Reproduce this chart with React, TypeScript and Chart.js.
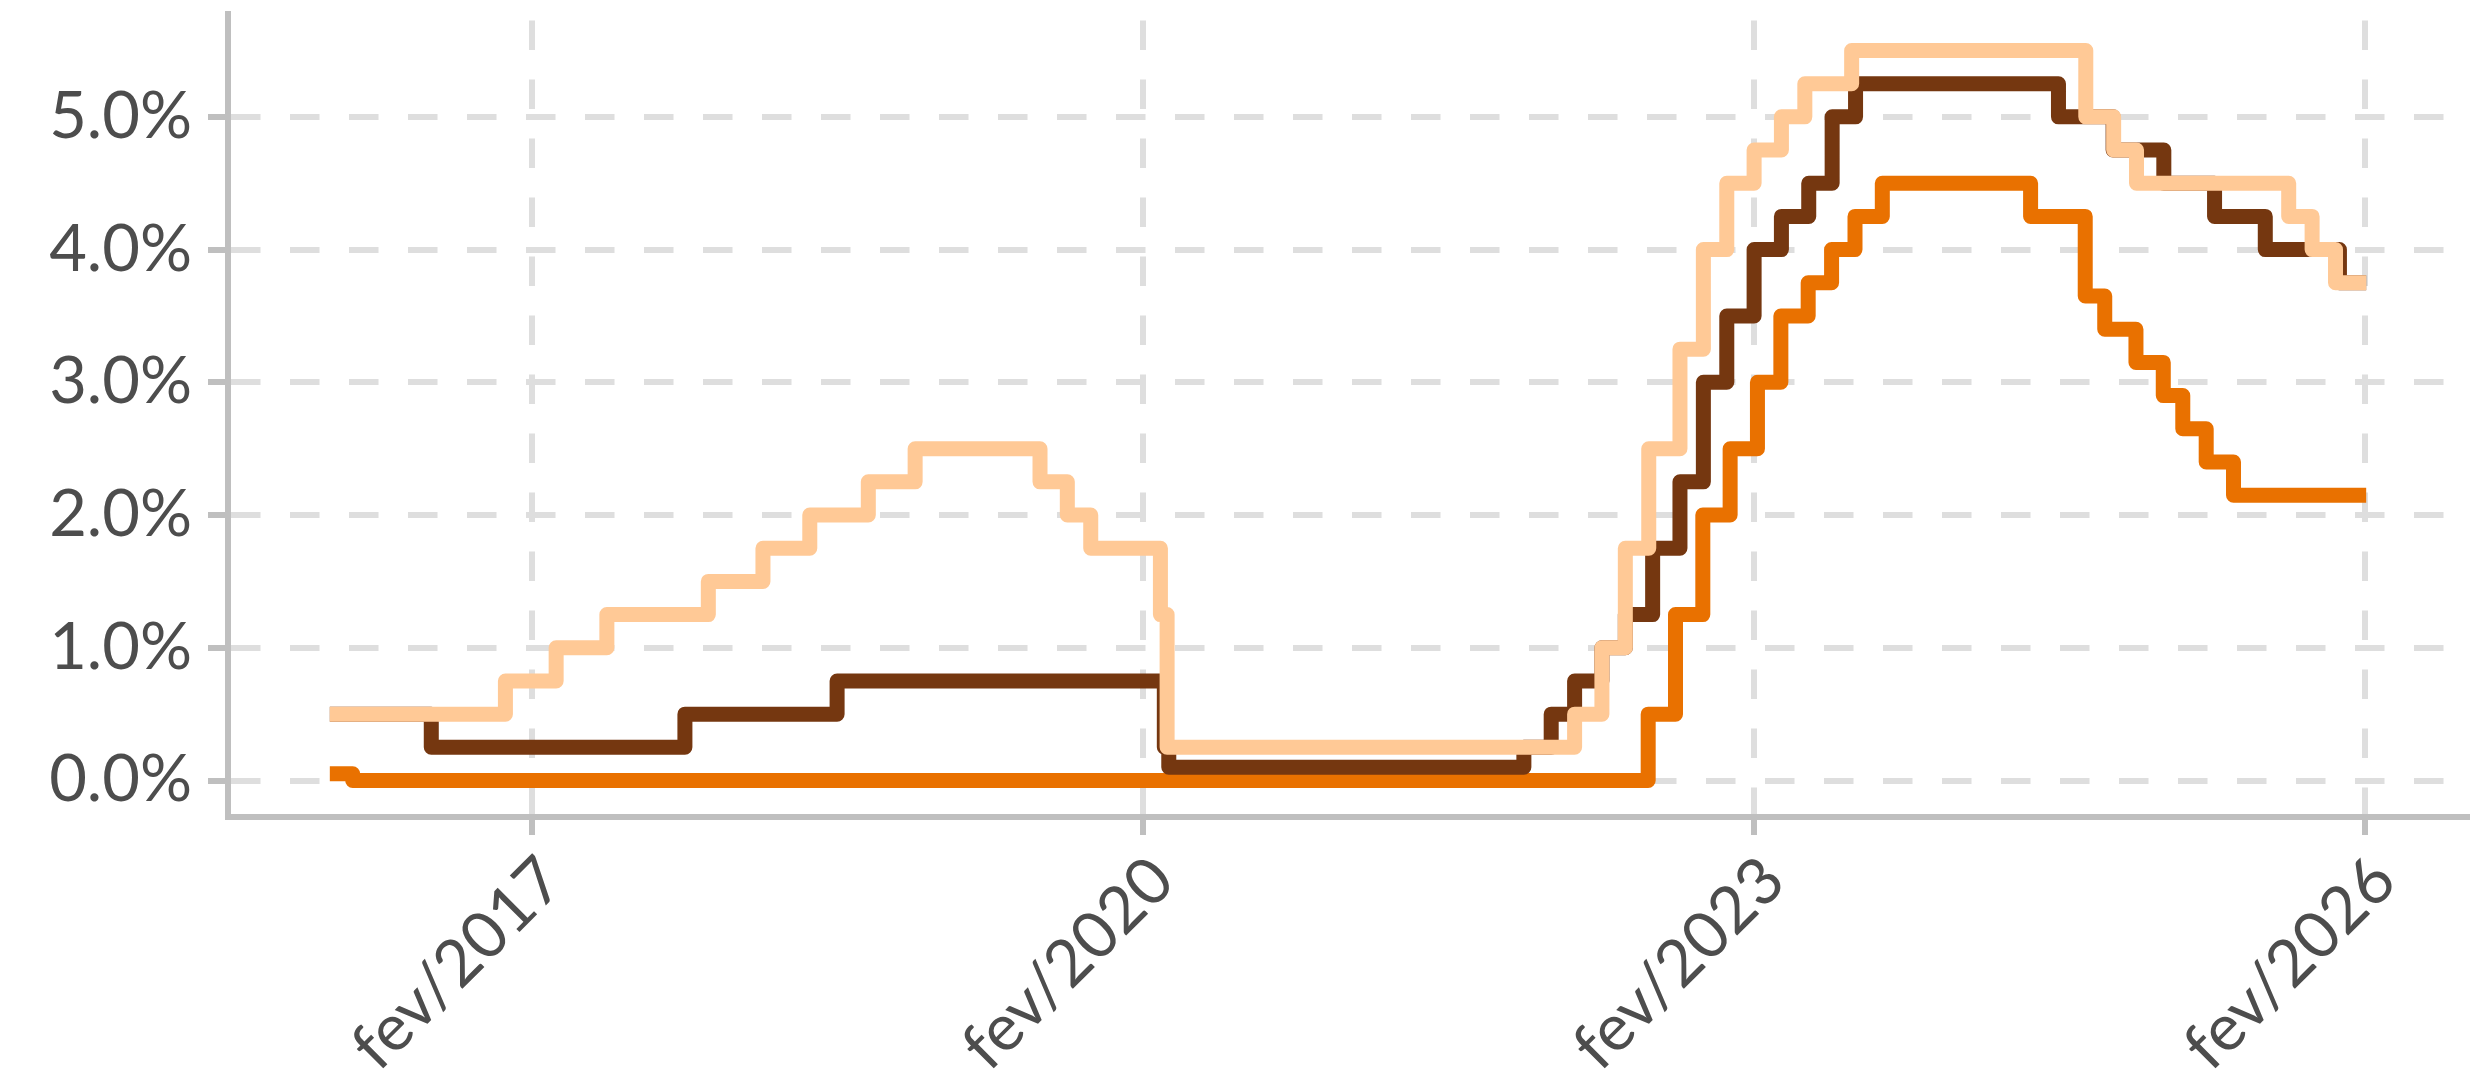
import React, { useEffect, useRef } from 'react';
import { Chart, registerables } from 'chart.js';

Chart.register(...registerables);

// Observation window of the series
const startDate = '2016-02-04';
const endDate = '2026-02-04';

// ECB main refinancing rate (%)
const ecbDates = [
  '2016-02-04', '2016-03-16', '2022-07-27', '2022-09-14', '2022-11-02', '2022-12-21',
  '2023-02-08', '2023-03-22', '2023-05-10', '2023-06-21', '2023-08-02', '2023-09-20',
  '2024-06-12', '2024-09-18', '2024-10-23', '2024-12-18', '2025-02-05', '2025-03-12',
  '2025-04-23', '2025-06-11', '2026-02-04',
];
const ecbRates = [
  0.05, 0.0, 0.5, 1.25, 2.0, 2.5,
  3.0, 3.5, 3.75, 4.0, 4.25, 4.5,
  4.25, 3.65, 3.4, 3.15, 2.9, 2.65,
  2.4, 2.15, 2.15,
];

// Bank of England Bank Rate (%)
const boeDates = [
  '2016-02-04', '2016-08-04', '2017-11-02', '2018-08-02', '2020-03-11', '2020-03-19',
  '2021-12-16', '2022-02-03', '2022-03-17', '2022-05-05', '2022-06-16', '2022-08-04',
  '2022-09-22', '2022-11-03', '2022-12-15', '2023-02-02', '2023-03-23', '2023-05-11',
  '2023-06-22', '2023-08-03', '2024-08-01', '2024-11-07', '2025-02-06', '2025-05-08',
  '2025-08-07', '2025-12-18', '2026-02-04',
];
const boeRates = [
  0.5, 0.25, 0.5, 0.75, 0.25, 0.1,
  0.25, 0.5, 0.75, 1.0, 1.25, 1.75,
  2.25, 3.0, 3.5, 4.0, 4.25, 4.5,
  5.0, 5.25, 5.0, 4.75, 4.5, 4.25,
  4.0, 3.75, 3.75,
];

// Fed funds target, upper bound (%)
const fedDates = [
  '2016-02-04', '2016-12-15', '2017-03-16', '2017-06-15', '2017-12-14', '2018-03-22',
  '2018-06-14', '2018-09-27', '2018-12-20', '2019-08-01', '2019-09-19', '2019-10-31',
  '2020-03-04', '2020-03-16', '2022-03-17', '2022-05-05', '2022-06-16', '2022-07-28',
  '2022-09-22', '2022-11-03', '2022-12-15', '2023-02-02', '2023-03-23', '2023-05-04',
  '2023-07-27', '2024-09-19', '2024-11-08', '2024-12-19', '2025-09-18', '2025-10-30',
  '2025-12-11', '2026-02-04',
];
const fedRates = [
  0.5, 0.75, 1.0, 1.25, 1.5, 1.75,
  2.0, 2.25, 2.5, 2.25, 2.0, 1.75,
  1.25, 0.25, 0.5, 1.0, 1.75, 2.5,
  3.25, 4.0, 4.5, 4.75, 5.0, 5.25,
  5.5, 5.0, 4.75, 4.5, 4.25, 4.0,
  3.75, 3.75,
];

const xTickDates = ['2017-02-01', '2020-02-01', '2023-02-01', '2026-02-01'];
const xTickLabels = ['fev/2017', 'fev/2020', 'fev/2023', 'fev/2026'];
const yTickValues = [0, 1, 2, 3, 4, 5];
const yMin = -0.275;
const yMax = 5.775;

const toPoints = (dates: string[], rates: number[]) =>
  dates.map((d, i) => ({ x: Date.parse(d), y: rates[i] }));

export default function App() {
  const ref = useRef<HTMLCanvasElement>(null);

  useEffect(() => {
    document.body.style.margin = '0';
    const s = Date.parse(startDate);
    const e = Date.parse(endDate);
    const pad = (e - s) * 0.05;
    const tickFont = { family: 'Lato', size: 65 };
    const lineCommon = {
      stepped: 'before' as const,
      borderWidth: 15,
      borderJoinStyle: 'round' as const,
      borderCapStyle: 'butt' as const,
      pointRadius: 0,
      pointHoverRadius: 0,
      fill: false,
      tension: 0,
    };
    const chart = new Chart(ref.current!, {
      type: 'line',
      data: {
        // first dataset is drawn on top
        datasets: [
          { label: 'Fed', data: toPoints(fedDates, fedRates), borderColor: '#FFC996', backgroundColor: '#FFC996', ...lineCommon },
          { label: 'BoE', data: toPoints(boeDates, boeRates), borderColor: '#753710', backgroundColor: '#753710', ...lineCommon },
          { label: 'BCE', data: toPoints(ecbDates, ecbRates), borderColor: '#E97100', backgroundColor: '#E97100', ...lineCommon },
        ],
      },
      options: {
        responsive: false,
        animation: false,
        devicePixelRatio: 1,
        layout: { padding: { top: 14, right: 2, left: 0, bottom: 0 } },
        plugins: { legend: { display: false }, tooltip: { enabled: false }, title: { display: false } },
        scales: {
          x: {
            type: 'linear',
            min: s - pad,
            max: e + pad,
            afterBuildTicks: (sc: any) => {
              sc.ticks = xTickDates.map((d) => ({ value: Date.parse(d) }));
            },
            afterFit: (sc: any) => {
              sc.height = 262;
              sc.paddingLeft = 0;
              sc.paddingRight = 0;
            },
            ticks: {
              autoSkip: false,
              minRotation: 45,
              maxRotation: 45,
              padding: 7,
              labelOffset: 20,
              color: '#4D4D4D',
              font: tickFont,
              callback: (v: any) => {
                const i = xTickDates.findIndex((d) => Date.parse(d) === v);
                return i >= 0 ? xTickLabels[i] : '';
              },
            },
            grid: {
              color: '#DEDEDE',
              lineWidth: 6,
              tickColor: '#BFBFBF',
              tickWidth: 6,
              tickLength: 18,
            },
            border: { color: '#BFBFBF', width: 6, dash: [29.5, 29.5], dashOffset: 52.5 },
          },
          y: {
            type: 'linear',
            min: yMin,
            max: yMax,
            afterBuildTicks: (sc: any) => {
              sc.ticks = yTickValues.map((v) => ({ value: v }));
            },
            afterFit: (sc: any) => {
              sc.width = 228;
              sc.paddingTop = 0;
              sc.paddingBottom = 0;
            },
            ticks: {
              padding: 16,
              color: '#4D4D4D',
              font: tickFont,
              callback: (v: any) => Number(v).toFixed(1) + '%',
            },
            grid: {
              color: '#DEDEDE',
              lineWidth: 6,
              tickColor: '#BFBFBF',
              tickWidth: 6,
              tickLength: 20,
            },
            border: { color: '#BFBFBF', width: 6, dash: [29.5, 29.5] },
          },
        },
      },
    });
    return () => chart.destroy();
  }, []);

  return (
    <canvas
      ref={ref}
      width={2470}
      height={1079}
      style={{ position: 'fixed', left: 0, top: 0, width: '2470px', height: '1079px' }}
    />
  );
}
